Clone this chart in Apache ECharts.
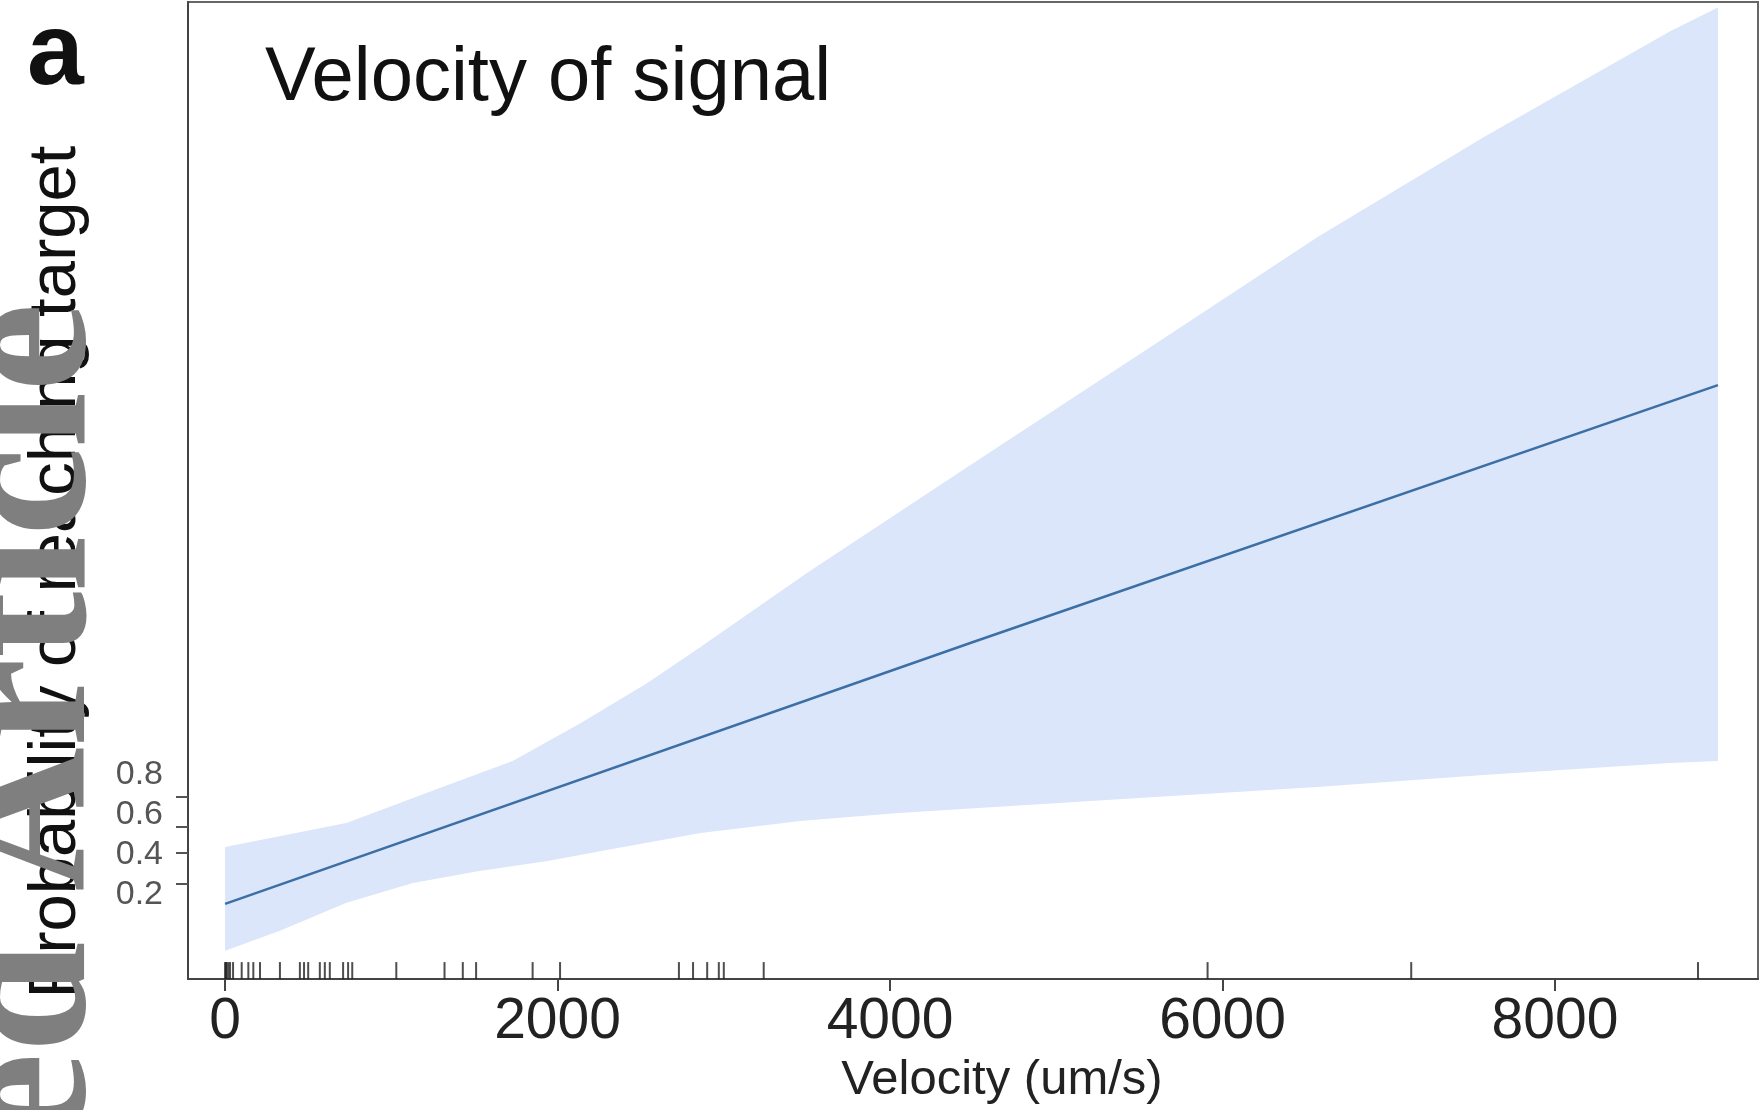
<!DOCTYPE html>
<html>
<head>
<meta charset="utf-8">
<script src="https://cdn.jsdelivr.net/npm/echarts@6/dist/echarts.min.js"></script>
<style>
  html, body { margin: 0; padding: 0; background: #fff; }
  #main { width: 1761px; height: 1110px; }
</style>
</head>
<body>
<div id="main"></div>
<script>
// values
const velocityTicks = [0, 2000, 4000, 6000, 8000];
const probLabels = [0.2, 0.4, 0.6, 0.8];
const probTickMarks = [0.255, 0.41, 0.54, 0.69];

const fitV = [0, 4500, 8980];
const fitP = [0.155, 1.465, 2.75];

const upperV = [0, 730, 1340, 1730, 2140, 2540, 2860, 3500, 4500, 5620, 6570, 7570, 8690, 8980];
const upperP = [0.44, 0.56, 0.75, 0.87, 1.06, 1.26, 1.44, 1.81, 2.36, 2.97, 3.49, 3.99, 4.52, 4.64];

const lowerV = [0, 330, 730, 1130, 1530, 1940, 2330, 2860, 3460, 4050, 5400, 6570, 7570, 8690, 8980];
const lowerP = [-0.08, 0.02, 0.16, 0.26, 0.32, 0.37, 0.43, 0.51, 0.57, 0.61, 0.68, 0.74, 0.80, 0.86, 0.87];

// rug: observed velocities
const rugV = [0, 5, 10, 20, 30, 48, 100, 140, 170, 210, 330, 450, 475, 500, 570, 600, 630, 710, 740, 765,
              1030, 1320, 1430, 1510, 1850, 2015, 2730, 2815, 2900, 2970, 3000, 3240, 5910, 7135, 8860];

const xMin = -223, xMax = 9221;
const yMin = -0.2214, yMax = 4.667;

const sans = '"Liberation Sans", Arial, Helvetica, sans-serif';
const serif = '"Liberation Serif", "Times New Roman", serif';
const bandColor = '#dbe6fa';
const lineColor = '#3b6fa6';

var myChart = echarts.init(document.getElementById('main'));

const zip = (a, b) => a.map((v, i) => [v, b[i]]);

myChart.setOption({
    backgroundColor: '#fff',
    animation: false,
    title: [
        {
            text: 'Velocity of signal',
            left: 260,
            top: 36,
            textStyle: { fontFamily: sans, fontSize: 76, fontWeight: 'normal', color: '#111' }
        },
        {
            text: 'a',
            left: 22,
            top: 0,
            textStyle: { fontFamily: sans, fontSize: 102, fontWeight: 'bold', color: '#111' }
        }
    ],
    grid: {
        left: 188,
        right: 3,
        top: 2,
        bottom: 122,
        show: true,
        borderColor: '#666',
        borderWidth: 2
    },
    xAxis: {
        type: 'value',
        min: xMin,
        max: xMax,
        name: 'Velocity (um/s)',
        nameLocation: 'middle',
        nameGap: 73,
        nameTextStyle: { fontFamily: sans, fontSize: 49, color: '#222', padding: [0, 0, 0, 58] },
        axisLine: { onZero: false, lineStyle: { color: '#444', width: 2 } },
        axisTick: { customValues: velocityTicks, length: 12, lineStyle: { color: '#444', width: 2 } },
        axisLabel: {
            customValues: velocityTicks,
            margin: 15,
            fontFamily: sans,
            fontSize: 57,
            color: '#222',
            formatter: (v) => String(v)
        },
        splitLine: { show: false }
    },
    yAxis: {
        type: 'value',
        min: yMin,
        max: yMax,
        axisLine: { onZero: false, lineStyle: { color: '#444', width: 2 } },
        axisTick: { customValues: probTickMarks, length: 12, lineStyle: { color: '#555', width: 2 } },
        axisLabel: {
            customValues: probLabels,
            margin: 25,
            fontFamily: sans,
            fontSize: 34,
            color: '#555',
            formatter: (v) => v.toFixed(1)
        },
        splitLine: { show: false }
    },
    graphic: [
        {
            type: 'text',
            x: 57,
            y: 572,
            rotation: Math.PI / 2,
            z: 10,
            style: {
                text: 'Probability of reaching target',
                font: '67px ' + sans,
                fill: '#111',
                align: 'center',
                verticalAlign: 'middle'
            }
        },
        {
            // journal watermark running up the left margin
            type: 'text',
            x: 32,
            y: 303,
            rotation: Math.PI / 2,
            z: 20,
            style: {
                text: 'Accepted Article',
                font: 'bold 200px ' + serif,
                fill: '#7f7f7f',
                align: 'right',
                verticalAlign: 'middle'
            }
        }
    ],
    series: [
        {
            name: 'band',
            type: 'custom',
            silent: true,
            z: 1,
            data: [[0, 0]],
            renderItem: function (params, api) {
                const pts = [];
                upperV.forEach((v, i) => pts.push(api.coord([v, upperP[i]])));
                for (let i = lowerV.length - 1; i >= 0; i--) {
                    pts.push(api.coord([lowerV[i], lowerP[i]]));
                }
                return {
                    type: 'polygon',
                    shape: { points: pts },
                    style: { fill: bandColor }
                };
            }
        },
        {
            name: 'fit',
            type: 'line',
            z: 3,
            silent: true,
            showSymbol: false,
            data: zip(fitV, fitP),
            lineStyle: { color: lineColor, width: 2.5 }
        },
        {
            name: 'rug',
            type: 'scatter',
            z: 4,
            silent: true,
            symbol: 'rect',
            symbolSize: [2, 17],
            symbolOffset: [0, -8.5],
            itemStyle: { color: '#222' },
            data: rugV.map(v => [v, yMin])
        }
    ]
});
</script>
</body>
</html>
